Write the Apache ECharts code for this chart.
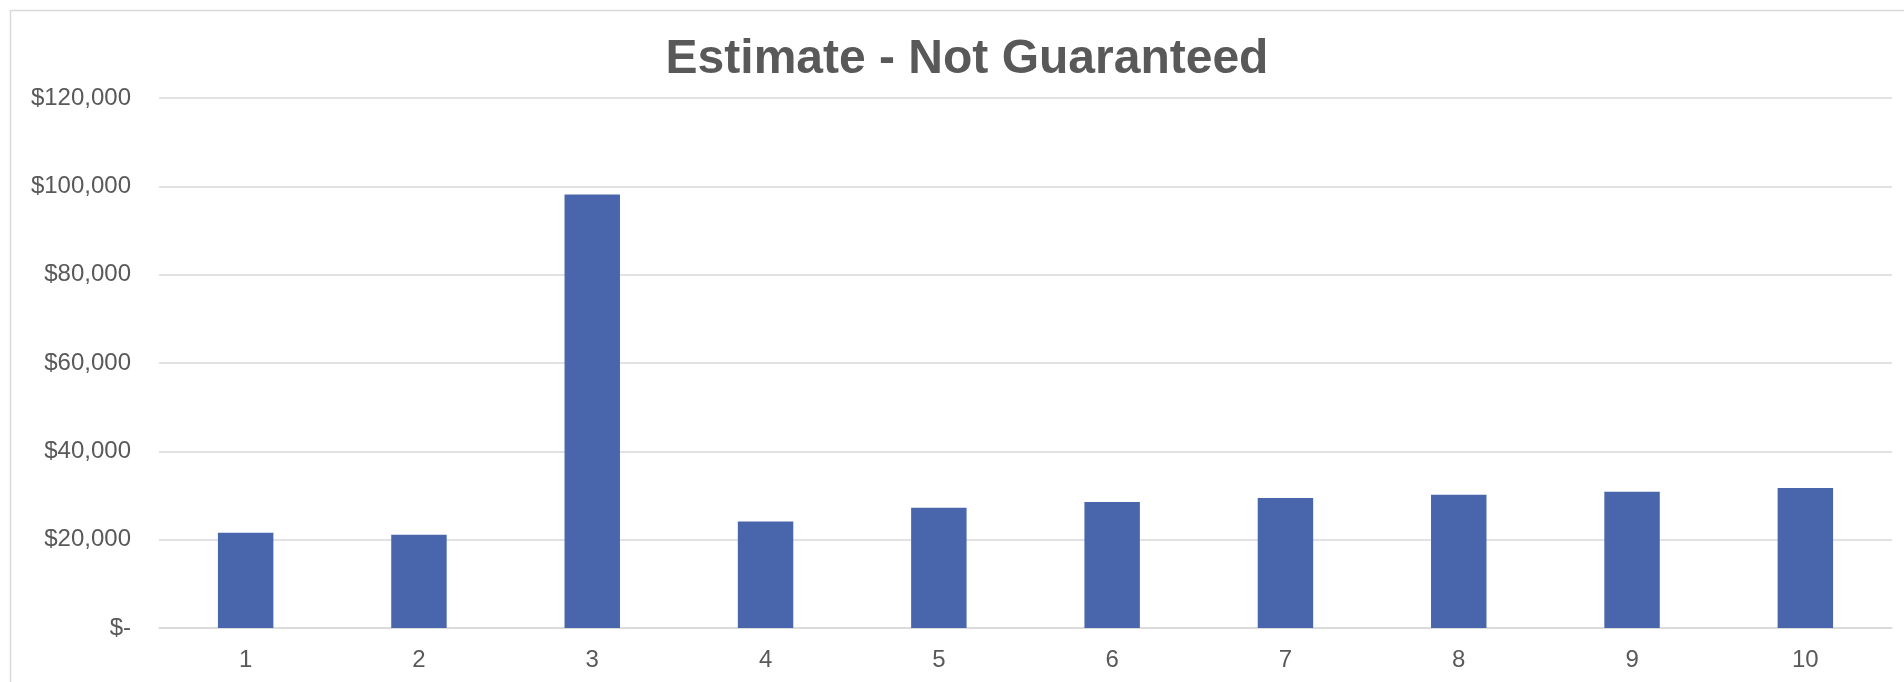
<!DOCTYPE html>
<html>
<head>
<meta charset="utf-8">
<title>Estimate - Not Guaranteed</title>
<script src="https://cdn.jsdelivr.net/npm/echarts@6/dist/echarts.min.js"></script>
<style>
  html, body { margin: 0; padding: 0; background: #fff; }
  #chart { width: 1904px; height: 682px; }
</style>
</head>
<body>
<div id="chart"></div>
<script>
// data
const titleText = 'Estimate - Not Guaranteed'
const years = ['1', '2', '3', '4', '5', '6', '7', '8', '9', '10']
const estimates = [21560, 21110, 98170, 24100, 27230, 28510, 29410, 30160, 30830, 31670]
const yTicks = [0, 20000, 40000, 60000, 80000, 100000, 120000]

const textColor = '#595959'
const gridColor = '#d9d9d9'
const barColor = '#4966ac'

function money(v) {
  if (v === 0) return '$-'
  return '$' + v.toLocaleString('en-US')
}

const chart = echarts.init(document.getElementById('chart'))

chart.setOption({
  backgroundColor: '#fff',
  animation: false,
  textStyle: { fontFamily: '"Liberation Sans", Arial, sans-serif' },
  // outer chart-area frame (runs off the right and bottom edge)
  graphic: [{
    type: 'rect',
    shape: { x: 10.5, y: 10.5, width: 1920, height: 700 },
    style: { fill: null, stroke: gridColor, lineWidth: 1.5 },
    silent: true,
    z: -1
  }],
  title: {
    text: titleText,
    left: 962,
    textAlign: 'center',
    top: 31,
    textStyle: {
      fontFamily: '"Liberation Sans", Arial, sans-serif',
      fontSize: 48,
      fontWeight: 'bold',
      color: textColor
    }
  },
  grid: { left: 159, right: 12, top: 98, bottom: 54, containLabel: false },
  xAxis: {
    type: 'category',
    data: years,
    axisLine: { show: true, lineStyle: { color: gridColor, width: 1.5 } },
    axisTick: { show: false },
    axisLabel: { color: textColor, fontSize: 24, margin: 20 }
  },
  yAxis: {
    type: 'value',
    min: yTicks[0],
    max: yTicks[yTicks.length - 1],
    interval: yTicks[1] - yTicks[0],
    axisLine: { show: false },
    axisTick: { show: false },
    splitLine: { lineStyle: { color: gridColor, width: 1.5 } },
    axisLabel: { color: textColor, fontSize: 24, margin: 28, formatter: money }
  },
  series: [{
    type: 'bar',
    data: estimates,
    barWidth: '32%',
    itemStyle: { color: barColor }
  }]
})
</script>
</body>
</html>
